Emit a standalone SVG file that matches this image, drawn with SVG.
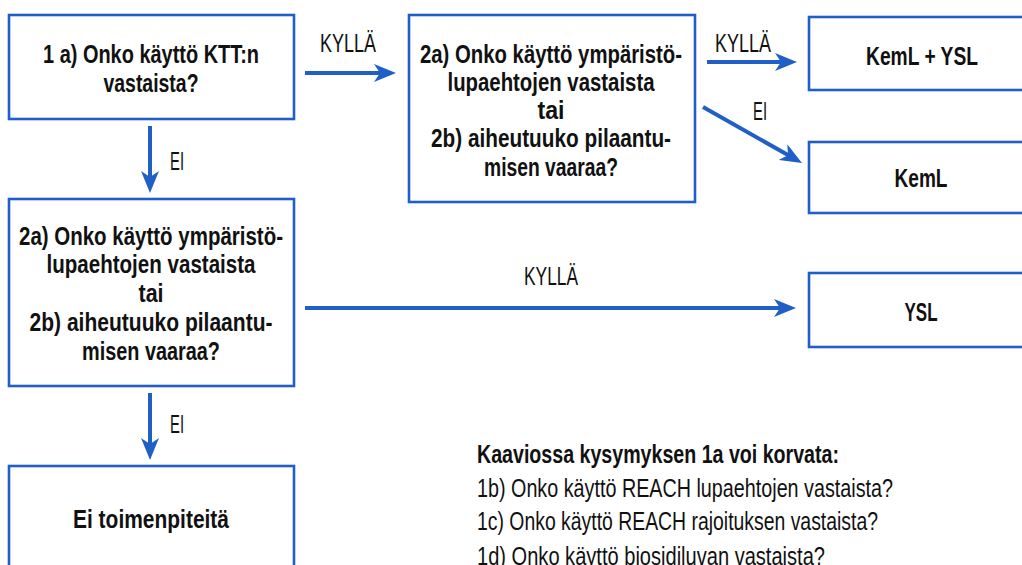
<svg xmlns="http://www.w3.org/2000/svg" width="1022" height="565" viewBox="0 0 1022 565">
<style>
.box{fill:#fff;stroke:#1f5fc6;stroke-width:2.6}
.con{fill:none;stroke:#1f5fc6;stroke-width:4}
text{font-family:"Liberation Sans Narrow","Liberation Sans",Arial,sans-serif;font-size:25.5px;fill:#111}
.b{font-weight:700;text-anchor:middle}
.lab{font-weight:400}
.note{font-weight:400}
</style>
<defs>
<marker id="ah" viewBox="0 0 22 18" refX="12" refY="9" markerWidth="22" markerHeight="18" markerUnits="userSpaceOnUse" orient="auto">
<path d="M0,0 L22,9 L0,18 L6,9 Z" fill="#1f5fc6"/>
</marker>
</defs>
<rect width="1022" height="565" fill="#fff"/>

<g id="q1">
<rect class="box" x="9" y="15" width="285" height="104"/>
<text class="b" x="151" y="63" textLength="216" lengthAdjust="spacingAndGlyphs">1 a) Onko käyttö KTT:n</text>
<text class="b" x="151" y="92" textLength="95" lengthAdjust="spacingAndGlyphs">vastaista?</text>
</g>

<g id="q2top">
<rect class="box" x="409" y="15" width="286" height="187"/>
<text class="b" x="551" y="63" textLength="262" lengthAdjust="spacingAndGlyphs">2a) Onko käyttö ympäristö-</text>
<text class="b" x="551" y="91" textLength="207" lengthAdjust="spacingAndGlyphs">lupaehtojen vastaista</text>
<text class="b" x="551" y="119" textLength="27" lengthAdjust="spacingAndGlyphs">tai</text>
<text class="b" x="551" y="147" textLength="240" lengthAdjust="spacingAndGlyphs">2b) aiheutuuko pilaantu-</text>
<text class="b" x="551" y="176" textLength="134" lengthAdjust="spacingAndGlyphs">misen vaaraa?</text>
</g>

<g id="q2low">
<rect class="box" x="9" y="199" width="285" height="187"/>
<text class="b" x="151" y="245" textLength="264" lengthAdjust="spacingAndGlyphs">2a) Onko käyttö ympäristö-</text>
<text class="b" x="151" y="273" textLength="209" lengthAdjust="spacingAndGlyphs">lupaehtojen vastaista</text>
<text class="b" x="151" y="302" textLength="25" lengthAdjust="spacingAndGlyphs">tai</text>
<text class="b" x="151" y="331" textLength="243" lengthAdjust="spacingAndGlyphs">2b) aiheutuuko pilaantu-</text>
<text class="b" x="151" y="360" textLength="138" lengthAdjust="spacingAndGlyphs">misen vaaraa?</text>
</g>

<g id="none">
<rect class="box" x="9" y="466" width="285" height="130"/>
<text class="b" x="151" y="528" textLength="156" lengthAdjust="spacingAndGlyphs">Ei toimenpiteitä</text>
</g>

<g id="kemlysl">
<rect class="box" x="809" y="17" width="230" height="73"/>
<text class="b" x="922" y="65" textLength="112" lengthAdjust="spacingAndGlyphs">KemL + YSL</text>
</g>

<g id="keml">
<rect class="box" x="809" y="142" width="230" height="71"/>
<text class="b" x="921" y="187" textLength="53" lengthAdjust="spacingAndGlyphs">KemL</text>
</g>

<g id="ysl">
<rect class="box" x="809" y="273" width="230" height="74"/>
<text class="b" x="921" y="321" textLength="33" lengthAdjust="spacingAndGlyphs">YSL</text>
</g>

<g id="connectors">
<line class="con" x1="305" y1="73" x2="386" y2="73" marker-end="url(#ah)"/>
<line class="con" x1="150" y1="126" x2="150" y2="183" marker-end="url(#ah)"/>
<line class="con" x1="707" y1="62" x2="787" y2="62" marker-end="url(#ah)"/>
<line class="con" x1="703" y1="107" x2="793.3" y2="158.1" marker-end="url(#ah)"/>
<line class="con" x1="305" y1="308" x2="786" y2="308" marker-end="url(#ah)"/>
<line class="con" x1="150" y1="393" x2="150" y2="450" marker-end="url(#ah)"/>
<text class="lab" x="320" y="52" textLength="56" lengthAdjust="spacingAndGlyphs">KYLLÄ</text>
<text class="lab" x="170" y="170" textLength="14" lengthAdjust="spacingAndGlyphs">EI</text>
<text class="lab" x="715" y="52" textLength="56" lengthAdjust="spacingAndGlyphs">KYLLÄ</text>
<text class="lab" x="753" y="120" textLength="14" lengthAdjust="spacingAndGlyphs">EI</text>
<text class="lab" x="524" y="285" textLength="54" lengthAdjust="spacingAndGlyphs">KYLLÄ</text>
<text class="lab" x="170" y="433" textLength="14" lengthAdjust="spacingAndGlyphs">EI</text>
</g>

<g id="notes">
<text x="477" y="463" font-weight="700" textLength="362" lengthAdjust="spacingAndGlyphs">Kaaviossa kysymyksen 1a voi korvata:</text>
<text class="note" x="477" y="497" textLength="416" lengthAdjust="spacingAndGlyphs">1b) Onko käyttö REACH lupaehtojen vastaista?</text>
<text class="note" x="477" y="530" textLength="401" lengthAdjust="spacingAndGlyphs">1c) Onko käyttö REACH rajoituksen vastaista?</text>
<text class="note" x="477" y="565" textLength="348" lengthAdjust="spacingAndGlyphs">1d) Onko käyttö biosidiluvan vastaista?</text>
</g>
</svg>
